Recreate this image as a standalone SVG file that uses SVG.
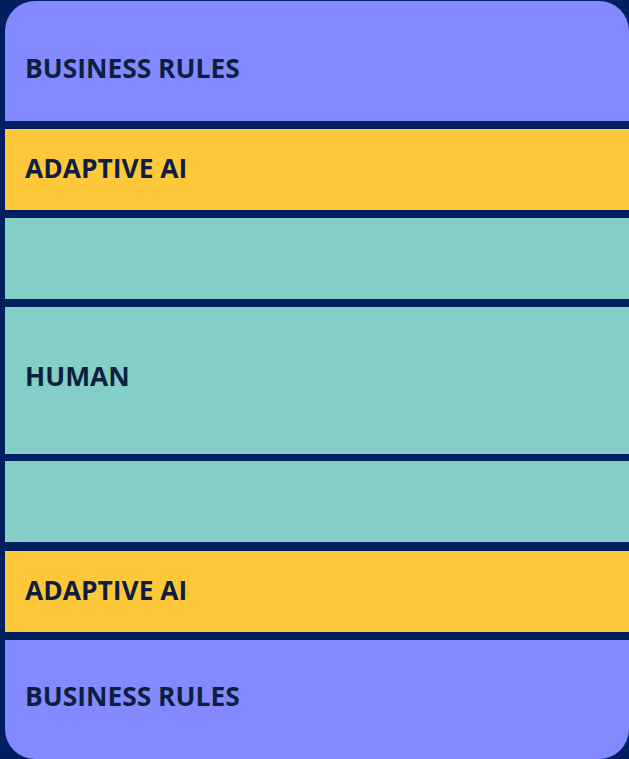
<svg xmlns="http://www.w3.org/2000/svg" width="629" height="759" viewBox="0 0 629 759">
  <style>
    .rules { fill: #8589FF; }
    .adaptive { fill: #FFC83A; }
    .human { fill: #83CEC7; }
    .label { font-family: "Open Sans", "Liberation Sans", sans-serif; font-weight: 700; font-size: 26.4px; fill: #0E1E3E; }
  </style>
  <!-- navy frame behind the stacked layers -->
  <rect x="0" y="0" width="629" height="759" fill="#001F5F"/>

  <g id="business-rules-top">
    <path class="rules" d="M5,121 V31 A30,30 0 0 1 35,1 H599 A30,30 0 0 1 629,31 V121 Z"/>
    <text class="label" x="25" y="78">BUSINESS RULES</text>
  </g>

  <g id="adaptive-ai-top">
    <rect class="adaptive" x="5" y="129" width="624" height="81"/>
    <text class="label" x="25" y="178">ADAPTIVE AI</text>
  </g>

  <g id="human-upper">
    <rect class="human" x="5" y="218" width="624" height="81"/>
  </g>

  <g id="human">
    <rect class="human" x="5" y="307" width="624" height="147"/>
    <text class="label" x="25" y="386">HUMAN</text>
  </g>

  <g id="human-lower">
    <rect class="human" x="5" y="461" width="624" height="81"/>
  </g>

  <g id="adaptive-ai-bottom">
    <rect class="adaptive" x="5" y="551" width="624" height="81"/>
    <text class="label" x="25" y="600">ADAPTIVE AI</text>
  </g>

  <g id="business-rules-bottom">
    <path class="rules" d="M5,640 H629 V729 A30,30 0 0 1 599,759 H35 A30,30 0 0 1 5,729 Z"/>
    <text class="label" x="25" y="706">BUSINESS RULES</text>
  </g>

  <g id="connectors"/>
</svg>
